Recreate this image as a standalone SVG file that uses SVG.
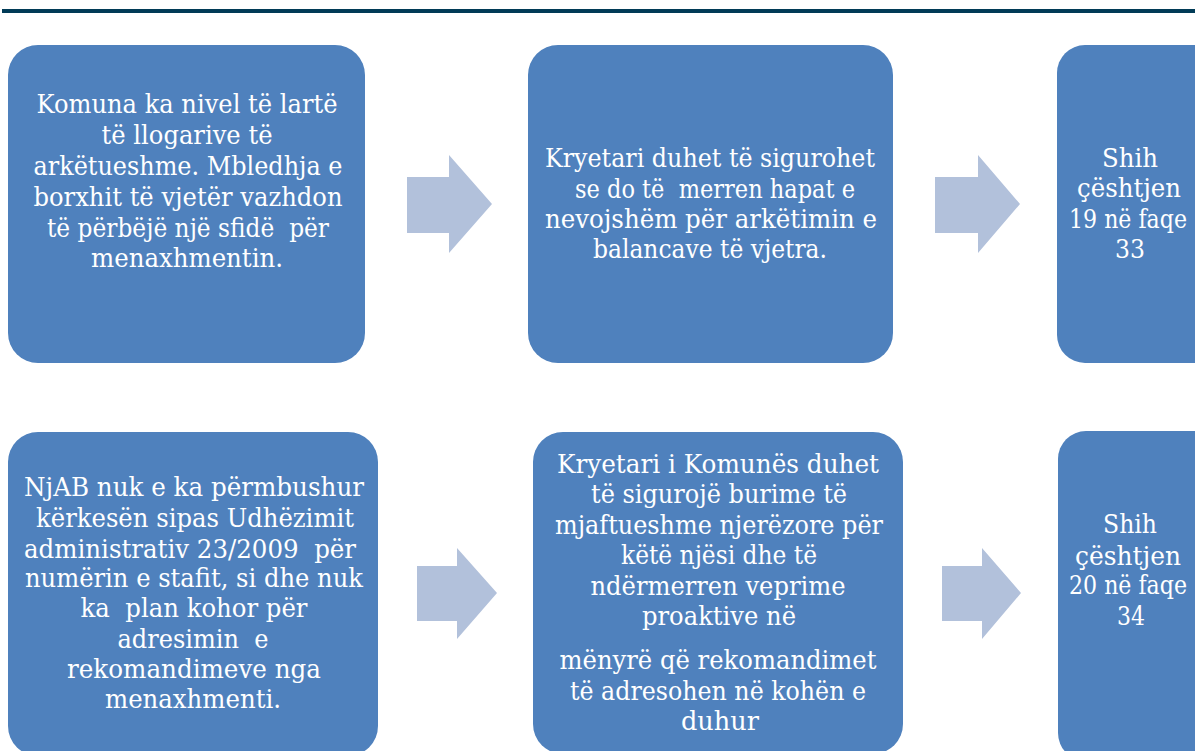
<svg xmlns="http://www.w3.org/2000/svg" width="1195" height="751" viewBox="0 0 1195 751">
<style>
.box{fill:#4f81bd}
.arrow{fill:#b2c1db}
.t{font-family:"DejaVu Serif","Liberation Serif",serif;font-size:26px;fill:#ffffff;text-anchor:middle}
</style>
<rect x="2" y="9" width="1193" height="4" fill="#013b57"/>
<g id="connectors">
<polygon class="arrow" points="407,177 449,177 449,155 492,204 449,253 449,233 407,233"/>
<polygon class="arrow" points="935,177 978,177 978,155 1020,204 978,253 978,233 935,233"/>
<polygon class="arrow" points="417,566 457,566 457,548 497,593 457,639 457,621 417,621"/>
<polygon class="arrow" points="942,566 982,566 982,548 1021,593 982,639 982,621 942,621"/>
</g>
<g id="node1">
<rect class="box" x="8" y="45" width="357" height="318" rx="30"/>
<text class="t" xml:space="preserve" x="187" y="113" textLength="301" lengthAdjust="spacingAndGlyphs">Komuna ka nivel të lartë</text>
<text class="t" xml:space="preserve" x="187" y="144" textLength="171" lengthAdjust="spacingAndGlyphs">të llogarive të</text>
<text class="t" xml:space="preserve" x="188" y="175" textLength="309" lengthAdjust="spacingAndGlyphs">arkëtueshme. Mbledhja e</text>
<text class="t" xml:space="preserve" x="188" y="206" textLength="309" lengthAdjust="spacingAndGlyphs">borxhit të vjetër vazhdon</text>
<text class="t" xml:space="preserve" x="188" y="237" textLength="282" lengthAdjust="spacingAndGlyphs">të përbëjë një sfidë  për</text>
<text class="t" xml:space="preserve" x="187" y="267" textLength="192" lengthAdjust="spacingAndGlyphs">menaxhmentin.</text>
</g>
<g id="node2">
<rect class="box" x="528" y="45" width="365" height="318" rx="30"/>
<text class="t" xml:space="preserve" x="710" y="167" textLength="330" lengthAdjust="spacingAndGlyphs">Kryetari duhet të sigurohet</text>
<text class="t" xml:space="preserve" x="715" y="198" textLength="280" lengthAdjust="spacingAndGlyphs">se do të  merren hapat e</text>
<text class="t" xml:space="preserve" x="711" y="228" textLength="332" lengthAdjust="spacingAndGlyphs">nevojshëm për arkëtimin e</text>
<text class="t" xml:space="preserve" x="710" y="258" textLength="234" lengthAdjust="spacingAndGlyphs">balancave të vjetra.</text>
</g>
<g id="node3">
<rect class="box" x="1057" y="45" width="170" height="318" rx="28"/>
<text class="t" xml:space="preserve" x="1130" y="167" textLength="56" lengthAdjust="spacingAndGlyphs">Shih</text>
<text class="t" xml:space="preserve" x="1129" y="197" textLength="104" lengthAdjust="spacingAndGlyphs">çështjen</text>
<text class="t" xml:space="preserve" x="1128" y="228" textLength="118" lengthAdjust="spacingAndGlyphs">19 në faqe</text>
<text class="t" xml:space="preserve" x="1130" y="258" textLength="30" lengthAdjust="spacingAndGlyphs">33</text>
</g>
<g id="node4">
<rect class="box" x="8" y="432" width="370" height="324" rx="30"/>
<text class="t" xml:space="preserve" x="194" y="496" textLength="340" lengthAdjust="spacingAndGlyphs">NjAB nuk e ka përmbushur</text>
<text class="t" xml:space="preserve" x="195" y="527" textLength="318" lengthAdjust="spacingAndGlyphs">kërkesën sipas Udhëzimit</text>
<text class="t" xml:space="preserve" x="190" y="558" textLength="332" lengthAdjust="spacingAndGlyphs">administrativ 23/2009  për</text>
<text class="t" xml:space="preserve" x="194" y="587" textLength="338" lengthAdjust="spacingAndGlyphs">numërin e stafit, si dhe nuk</text>
<text class="t" xml:space="preserve" x="194" y="617" textLength="227" lengthAdjust="spacingAndGlyphs">ka  plan kohor për</text>
<text class="t" xml:space="preserve" x="193" y="648" textLength="151" lengthAdjust="spacingAndGlyphs">adresimin  e</text>
<text class="t" xml:space="preserve" x="194" y="678" textLength="254" lengthAdjust="spacingAndGlyphs">rekomandimeve nga</text>
<text class="t" xml:space="preserve" x="193" y="708" textLength="176" lengthAdjust="spacingAndGlyphs">menaxhmenti.</text>
</g>
<g id="node5">
<rect class="box" x="533" y="432" width="370" height="322" rx="30"/>
<text class="t" xml:space="preserve" x="718" y="473" textLength="322" lengthAdjust="spacingAndGlyphs">Kryetari i Komunës duhet</text>
<text class="t" xml:space="preserve" x="719" y="503" textLength="256" lengthAdjust="spacingAndGlyphs">të sigurojë burime të</text>
<text class="t" xml:space="preserve" x="719" y="534" textLength="328" lengthAdjust="spacingAndGlyphs">mjaftueshme njerëzore për</text>
<text class="t" xml:space="preserve" x="719" y="564" textLength="196" lengthAdjust="spacingAndGlyphs">këtë njësi dhe të</text>
<text class="t" xml:space="preserve" x="718" y="595" textLength="255" lengthAdjust="spacingAndGlyphs">ndërmerren veprime</text>
<text class="t" xml:space="preserve" x="719" y="625" textLength="154" lengthAdjust="spacingAndGlyphs">proaktive në</text>
<text class="t" xml:space="preserve" x="718" y="669" textLength="317" lengthAdjust="spacingAndGlyphs">mënyrë që rekomandimet</text>
<text class="t" xml:space="preserve" x="718" y="700" textLength="296" lengthAdjust="spacingAndGlyphs">të adresohen në kohën e</text>
<text class="t" xml:space="preserve" x="720" y="730" textLength="78" lengthAdjust="spacingAndGlyphs">duhur</text>
</g>
<g id="node6">
<rect class="box" x="1058" y="431" width="170" height="330" rx="28"/>
<text class="t" xml:space="preserve" x="1130" y="533" textLength="54" lengthAdjust="spacingAndGlyphs">Shih</text>
<text class="t" xml:space="preserve" x="1128" y="565" textLength="106" lengthAdjust="spacingAndGlyphs">çështjen</text>
<text class="t" xml:space="preserve" x="1128" y="594" textLength="118" lengthAdjust="spacingAndGlyphs">20 në faqe</text>
<text class="t" xml:space="preserve" x="1131" y="625" textLength="28" lengthAdjust="spacingAndGlyphs">34</text>
</g>
</svg>
